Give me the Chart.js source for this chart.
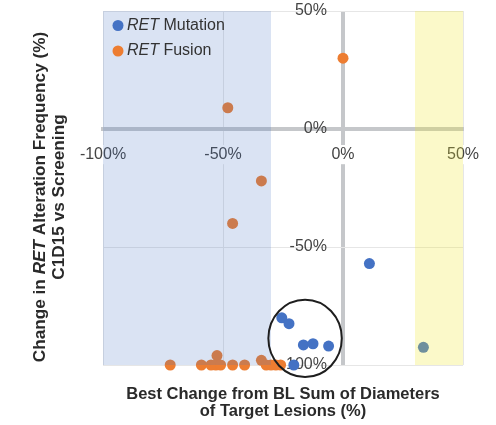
<!DOCTYPE html>
<html>
<head>
<meta charset="utf-8">
<script src="https://cdn.jsdelivr.net/npm/chart.js@4/dist/chart.umd.min.js"></script>
<style>
  html, body { margin: 0; padding: 0; background: #ffffff; }
  canvas { display: block; }
</style>
</head>
<body>
<canvas id="chart" width="496" height="425"></canvas>
<script>
// ---- data ----
const geneName = 'RET';
const seriesLabels = ['Mutation', 'Fusion'];

// best change in sum of target lesion diameters (%), change in alteration frequency (%)
const mutationX = [11, -25.5, -22.5, -16.5, -12.5, -6, 33.5, -20.5];
const mutationY = [-57, -80, -82.5, -91.5, -91, -92, -92.5, -100];

const fusionX = [0, -48, -34, -46, -72, -59, -55, -53, -52.5, -51, -46, -41, -34, -32, -30, -28, -26];
const fusionY = [30, 9, -22, -40, -100, -100, -100, -100, -96, -100, -100, -100, -98, -100, -100, -100, -100];

const axisMin = -100;
const axisMax = 50;
const axisStep = 50;

// shaded response bands on the x axis
const responseBand = [-100, -30];
const progressionBand = [30, 50];

// highlighted cluster (centre and radii in data units)
const clusterCentre = [-15.8, -88.7];
const clusterRadii = [15.3, 16.4];

// the y tick labels sit just left of the vertical zero line
const yLabelAnchor = -6.7;

const xTitleLines = ['Best Change from BL Sum of Diameters', 'of Target Lesions (%)'];
const yTitleLine1 = [['Change in ', false], [geneName, true], [' Alteration Frequency (%)', false]];
const yTitleLine2 = 'C1D15 vs Screening';

// ---- styling ----
const FONT = '"Liberation Sans", Arial, Helvetica, sans-serif';
const BLUE = '#4472C4';
const ORANGE = '#ED7D31';
const AXIS_GREY = '#c5c7ca';
const GRID_GREY = '#e6e6e6';

const toPoints = (xs, ys) => xs.map((v, i) => ({ x: v, y: ys[i] }));

function fontStr(size, weight, italic) {
  return `${italic ? 'italic ' : ''}${weight} ${size}px ${FONT}`;
}

// draws a line made of plain/italic runs, centred on (cx, cy)
function drawRuns(ctx, runs, cx, cy, size, weight, color) {
  let total = 0;
  runs.forEach(([t, it]) => { ctx.font = fontStr(size, weight, it); total += ctx.measureText(t).width; });
  let x = cx - total / 2;
  ctx.fillStyle = color;
  ctx.textAlign = 'left';
  ctx.textBaseline = 'middle';
  runs.forEach(([t, it]) => {
    ctx.font = fontStr(size, weight, it);
    ctx.fillText(t, x, cy);
    x += ctx.measureText(t).width;
  });
}

const overlayPlugin = {
  id: 'overlays',
  afterDatasetsDraw(chart) {
    const { ctx, chartArea: a, scales: { x, y } } = chart;
    ctx.save();
    // translucent bands over the plot
    const b0 = x.getPixelForValue(responseBand[0]);
    const b1 = x.getPixelForValue(responseBand[1]);
    ctx.fillStyle = 'rgba(68,114,196,0.2)';
    ctx.fillRect(b0, a.top, b1 - b0, a.bottom - a.top);
    const p0 = x.getPixelForValue(progressionBand[0]);
    const p1 = x.getPixelForValue(progressionBand[1]);
    ctx.fillStyle = 'rgba(240,230,40,0.25)';
    ctx.fillRect(p0, a.top, p1 - p0, a.bottom - a.top);

    // circle around the cluster
    const cx = x.getPixelForValue(clusterCentre[0]);
    const cy = y.getPixelForValue(clusterCentre[1]);
    const rx = Math.abs(x.getPixelForValue(clusterCentre[0] + clusterRadii[0]) - cx);
    const ry = Math.abs(y.getPixelForValue(clusterCentre[1] + clusterRadii[1]) - cy);
    ctx.beginPath();
    ctx.ellipse(cx, cy, rx, ry, 0, 0, Math.PI * 2);
    ctx.lineWidth = 2;
    ctx.strokeStyle = '#1e1e1e';
    ctx.stroke();

    // legend in the upper-left corner of the plot
    chart.data.datasets.forEach((ds, i) => {
      const ly = a.top + 14.5 + i * 25.5;
      const lx = a.left + 15;
      ctx.beginPath();
      ctx.arc(lx, ly, 5.5, 0, Math.PI * 2);
      ctx.fillStyle = ds.backgroundColor;
      ctx.fill();
      let tx = lx + 9;
      ctx.textAlign = 'left';
      ctx.textBaseline = 'middle';
      ctx.fillStyle = '#333333';
      ctx.font = fontStr(16, 'normal', true);
      ctx.fillText(geneName, tx, ly);
      tx += ctx.measureText(geneName).width;
      ctx.font = fontStr(16, 'normal', false);
      ctx.fillText(' ' + seriesLabels[i], tx, ly);
    });

    // axis titles
    const midX = (a.left + a.right) / 2;
    xTitleLines.forEach((t, i) => {
      drawRuns(ctx, [[t, false]], midX, a.bottom + 29 + i * 17.5, 16.5, 'bold', '#2a2a2a');
    });
    ctx.save();
    ctx.translate(40, 197);
    ctx.rotate(-Math.PI / 2);
    drawRuns(ctx, yTitleLine1, 0, 0, 17.2, 'bold', '#2a2a2a');
    ctx.restore();
    ctx.save();
    ctx.translate(59.5, 197);
    ctx.rotate(-Math.PI / 2);
    drawRuns(ctx, [[yTitleLine2, false]], 0, 0, 17.2, 'bold', '#2a2a2a');
    ctx.restore();

    ctx.restore();
  }
};

const pct = v => v + '%';
const isZero = c => c.tick && c.tick.value === 0;

new Chart(document.getElementById('chart'), {
  type: 'scatter',
  data: {
    datasets: [
      { label: geneName + ' ' + seriesLabels[0], data: toPoints(mutationX, mutationY),
        backgroundColor: BLUE, borderWidth: 0, pointRadius: 5.5, pointHoverRadius: 5.5, clip: false },
      { label: geneName + ' ' + seriesLabels[1], data: toPoints(fusionX, fusionY),
        backgroundColor: ORANGE, borderWidth: 0, pointRadius: 5.5, pointHoverRadius: 5.5, clip: false }
    ]
  },
  options: {
    responsive: false,
    animation: false,
    devicePixelRatio: 1,
    layout: { padding: { left: 103, right: 33, top: 11, bottom: 60 } },
    plugins: { legend: { display: false }, tooltip: { enabled: false } },
    scales: {
      x: {
        type: 'linear',
        min: axisMin, max: axisMax,
        position: { y: 0 },
        ticks: { stepSize: axisStep, callback: pct, color: '#444444', padding: 16,
                 font: { family: FONT, size: 16 },
                 showLabelBackdrop: true, backdropColor: '#ffffff', backdropPadding: 0 },
        grid: {
          color: c => isZero(c) ? AXIS_GREY : GRID_GREY,
          lineWidth: c => isZero(c) ? 4 : 1,
          drawTicks: false
        },
        border: { display: true, color: AXIS_GREY, width: 4 }
      },
      y: {
        type: 'linear',
        min: axisMin, max: axisMax,
        position: { x: yLabelAnchor },
        ticks: { stepSize: axisStep, callback: pct, color: '#444444', padding: 0,
                 font: { family: FONT, size: 16 } },
        grid: { color: GRID_GREY, lineWidth: 1, drawTicks: false },
        border: { display: false }
      }
    }
  },
  plugins: [overlayPlugin]
});
</script>
</body>
</html>
